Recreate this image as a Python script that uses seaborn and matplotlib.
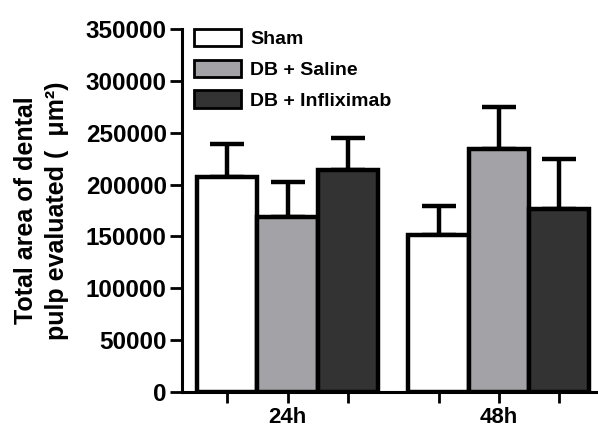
import matplotlib
matplotlib.use('Agg')
import matplotlib.pyplot as plt
import seaborn as sns
import pandas as pd
import numpy as np

times = ['24h', '48h']
groups = ['Sham', 'DB + Saline', 'DB + Infliximab']
sham_mean = [207500, 151000]
saline_mean = [169000, 234000]
inflix_mean = [214500, 176000]
sham_sem = [31500, 28000]
saline_sem = [33500, 40500]
inflix_sem = [30000, 49000]
colors = ['#ffffff', '#a3a3a7', '#333333']
yticks = [0, 50000, 100000, 150000, 200000, 250000, 300000, 350000]

sns.set_theme(style='ticks')
plt.rcParams['font.family'] = ['Liberation Sans', 'DejaVu Sans']
plt.rcParams['text.color'] = 'black'
plt.rcParams['axes.labelcolor'] = 'black'
plt.rcParams['xtick.color'] = 'black'
plt.rcParams['ytick.color'] = 'black'
plt.rcParams['axes.edgecolor'] = 'black'

df = pd.DataFrame({
    'time': times * 3,
    'group': np.repeat(groups, len(times)),
    'mean': sham_mean + saline_mean + inflix_mean,
})

fig = plt.figure(figsize=(5.98, 4.30), dpi=100)
ax = fig.add_axes([182 / 598, 1 - 392 / 430, 1 - 182 / 598, (392 - 29) / 430])
sns.barplot(data=df, x='time', y='mean', hue='group', order=times, hue_order=groups,
            palette=colors, width=0.855, edgecolor='black', linewidth=3.2,
            errorbar=None, saturation=1, ax=ax)

sems = [sham_sem, saline_sem, inflix_sem]
centers = []
for cont, sem in zip(ax.containers, sems):
    for bar, e in zip(cont, sem):
        x = bar.get_x() + bar.get_width() / 2
        h = bar.get_height()
        ax.errorbar(x, h, yerr=[[0], [e]], fmt='none', ecolor='black',
                    elinewidth=3.2, capsize=12, capthick=3.2, zorder=0.9)
        centers.append(x)

centers = sorted(centers)
ax.set_xticks(centers)
ax.set_xticklabels(['', times[0], '', '', times[1], ''])
ax.set_xlim(-0.5, 1.47)
ax.set_ylim(0, 350000)
ax.set_yticks(yticks)
ax.set_yticklabels([str(v) for v in yticks])
ax.set_xlabel('')
ax.set_ylabel('Total area of dental\npulp evaluated (  μm²)', fontsize=18,
              fontweight='bold', labelpad=12, multialignment='center', linespacing=1.35)

for s in ['top', 'right']:
    ax.spines[s].set_visible(False)
for s in ['left', 'bottom']:
    ax.spines[s].set_linewidth(2.2)
ax.tick_params(axis='y', direction='out', length=9, width=2, labelsize=17.5, pad=2)
ax.tick_params(axis='x', direction='out', length=8, width=2, labelsize=16, pad=3)
for lab in ax.get_xticklabels() + ax.get_yticklabels():
    lab.set_fontweight('bold')

handles, labels = ax.get_legend_handles_labels()
leg = ax.legend(handles, labels, loc='upper left',
                bbox_to_anchor=(194 / 598, 1 - 29 / 430), bbox_transform=fig.transFigure,
                frameon=False, borderpad=0, borderaxespad=0, handlelength=2.4,
                handleheight=1.0, labelspacing=0.58, handletextpad=0.5,
                prop={'weight': 'bold', 'size': 14})
for p in leg.get_patches():
    p.set_linewidth(2)

fig.savefig('out.png', dpi=100)
